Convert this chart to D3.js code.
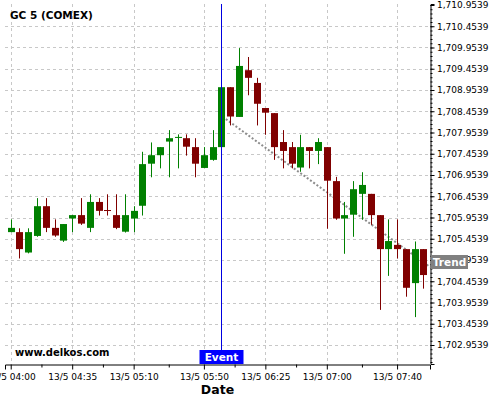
<!DOCTYPE html>
<html><head><meta charset="utf-8">
<script src="https://cdn.jsdelivr.net/npm/d3@7"></script>
<style>body{margin:0;background:#fff;}svg{display:block;font-family:"DejaVu Sans",sans-serif;}</style>
</head><body><div id="chart"></div>
<script>
// ---- data ----
const startTime = "2024-05-13T04:00:00";
const barMinutes = 5;
const opens  = [1705.61,1705.61,1705.13,1705.52,1706.22,1705.71,1705.41,1705.93,1706.01,1705.71,1706.32,1706.13,1706.01,1705.62,1705.93,1706.23,1707.22,1707.42,1707.74,1707.83,1707.82,1707.61,1707.12,1707.31,1707.61,1709.02,1708.32,1709.42,1709.12,1708.53,1708.41,1707.73,1707.61,1707.13,1707.61,1707.52,1707.61,1706.81,1705.93,1706.02,1706.51,1706.51,1706.01,1705.21,1705.31,1705.21,1704.41,1705.21];
const highs  = [1705.91,1705.70,1705.70,1706.41,1706.41,1705.91,1705.80,1706.01,1706.41,1706.50,1706.41,1706.50,1706.50,1706.50,1706.22,1707.50,1707.72,1707.61,1708.01,1707.91,1707.91,1707.82,1707.61,1708.01,1709.02,1709.02,1709.94,1709.73,1709.24,1708.53,1708.41,1708.01,1707.73,1707.90,1707.61,1707.82,1707.61,1706.91,1706.32,1706.81,1707.02,1706.51,1706.01,1705.91,1705.91,1705.21,1705.39,1705.21];
const lows   = [1705.61,1704.99,1705.11,1705.50,1705.61,1705.50,1705.38,1705.61,1705.78,1705.61,1706.00,1706.00,1705.68,1705.60,1705.61,1706.00,1706.90,1707.11,1706.90,1707.11,1707.41,1706.90,1707.12,1707.29,1707.61,1708.12,1708.32,1708.83,1708.12,1707.90,1707.31,1707.11,1707.11,1707.03,1707.11,1707.21,1705.69,1705.90,1705.10,1705.50,1705.90,1705.78,1703.78,1704.58,1704.99,1704.09,1703.61,1704.28];
const closes = [1705.71,1705.21,1705.61,1706.22,1705.71,1705.53,1705.80,1706.01,1705.81,1706.32,1706.11,1706.11,1705.71,1706.01,1706.11,1707.21,1707.42,1707.61,1707.82,1707.85,1707.62,1707.22,1707.42,1707.61,1709.02,1708.33,1709.52,1709.24,1708.63,1708.42,1707.61,1707.52,1707.22,1707.61,1707.52,1707.73,1706.82,1705.93,1706.01,1706.62,1706.72,1706.01,1705.21,1705.40,1705.21,1704.30,1705.21,1704.60];
const xTickTimes = ["04:00","04:35","05:10","05:50","06:25","07:00","07:40"];
const yTickValues = d3.range(0,17).map(i => 1702.9539 + i*0.5);
const eventTime = "06:00";
const eventLabel = "Event";
const trendTimes = ["06:02:30","07:58:45"];
const trendPrices = [1708.27,1704.79];
const trendLabel = "Trend";
const title = "GC 5 (COMEX)";
const watermark = "www.delkos.com";
const xAxisTitle = "Date";

// ---- setup ----
const W = 500, H = 400;
const plot = {left:5, right:430, top:4, bottom:364};
const day = "2024-05-13T";
const t = s => new Date(day + (s.length===5 ? s+":00" : s));
const t0 = new Date(startTime);
const times = opens.map((_,i)=> new Date(t0.getTime() + i*barMinutes*60000));
const candles = times.map((d,i)=>({date:d,o:opens[i],h:highs[i],l:lows[i],c:closes[i]}));

const x = d3.scaleTime().domain([t("03:56:45"), t("07:58:45")]).range([plot.left, plot.right]);
const y = d3.scaleLinear().domain([1702.5069, 1710.9774]).range([plot.bottom, plot.top]);

const svg = d3.select("#chart").append("svg").attr("width",W).attr("height",H);

// grid
const grid = svg.append("g").attr("stroke","#c8c8c8").attr("stroke-dasharray","3,3").attr("stroke-width",1);
grid.selectAll("line.h").data(yTickValues.filter(v => y(v) > plot.top+2)).join("line")
  .attr("x1",plot.left).attr("x2",plot.right)
  .attr("y1",d=>Math.round(y(d))+0.5).attr("y2",d=>Math.round(y(d))+0.5);
const xTicks = xTickTimes.map(t);
grid.selectAll("line.v").data(xTicks).join("line")
  .attr("y1",plot.top).attr("y2",plot.bottom)
  .attr("x1",d=>Math.round(x(d))+0.5).attr("x2",d=>Math.round(x(d))+0.5);

// trend line (under candles)
svg.append("line")
  .attr("x1",x(t(trendTimes[0]))).attr("y1",y(trendPrices[0]))
  .attr("x2",x(t(trendTimes[1]))).attr("y2",y(trendPrices[1]))
  .attr("stroke","#8c8c8c").attr("stroke-width",2).attr("stroke-dasharray","2,2");

// candles
const cg = svg.append("g");
const col = d => d.c >= d.o ? "#008000" : "#800000";
cg.selectAll("line").data(candles).join("line")
  .attr("x1",d=>Math.round(x(d.date))+0.5).attr("x2",d=>Math.round(x(d.date))+0.5)
  .attr("y1",d=>y(d.h)).attr("y2",d=>y(d.l))
  .attr("stroke",col).attr("stroke-width",1);
cg.selectAll("rect").data(candles).join("rect")
  .attr("x",d=>Math.round(x(d.date))-3).attr("width",7)
  .attr("y",d=>y(Math.max(d.o,d.c)))
  .attr("height",d=>Math.max(1, Math.abs(y(d.o)-y(d.c))))
  .attr("fill",col);

// event line
const ex = Math.round(x(t(eventTime)))+0.5;
svg.append("line").attr("x1",ex).attr("x2",ex).attr("y1",plot.top).attr("y2",plot.bottom)
  .attr("stroke","#0000e0").attr("stroke-width",1);
svg.append("rect").attr("x",ex-22).attr("y",350).attr("width",44).attr("height",14).attr("fill","#0000ff");
svg.append("text").attr("x",ex).attr("y",361).attr("text-anchor","middle")
  .attr("fill","#fff").attr("font-weight","bold").attr("font-size",10.5).text(eventLabel);

// axes
const yAxis = svg.append("g").attr("transform",`translate(${plot.right+0.5},0)`)
  .call(d3.axisRight(y).tickValues(yTickValues).tickSize(4).tickPadding(2.5).tickFormat(d3.format(",.4f")));
const yMinor = svg.append("g").attr("transform",`translate(${plot.right+0.5},0)`)
  .call(d3.axisRight(y).tickValues(d3.range(0,85).map(i=>1702.5539+i*0.1).filter(v=>v<=y.domain()[1])).tickSize(2).tickFormat(""));
yMinor.select(".domain").remove();

const xAxis = svg.append("g").attr("transform",`translate(0,${plot.bottom+0.5})`)
  .call(d3.axisBottom(x).tickValues(xTicks).tickSize(5).tickPadding(4.5).tickFormat(d3.timeFormat("%-d/%-m %H:%M")));
const minorX = [];
for (let i=0;i<xTicks.length-1;i++) minorX.push(new Date((xTicks[i].getTime()+xTicks[i+1].getTime())/2));
const xMinor = svg.append("g").attr("transform",`translate(0,${plot.bottom+0.5})`)
  .call(d3.axisBottom(x).tickValues(minorX).tickSize(3).tickFormat(""));
xMinor.select(".domain").remove();

[yAxis,xAxis,yMinor,xMinor].forEach(g=>{
  g.attr("font-family","DejaVu Sans, sans-serif").attr("font-size",9);
  g.selectAll("text").attr("fill","#000");
  g.selectAll("line").attr("stroke","#000");
  g.select(".domain").attr("stroke","#000");
});

// trend label
svg.append("rect").attr("x",431).attr("y",255).attr("width",37).attr("height",14).attr("fill","#808080");
svg.append("text").attr("x",449.5).attr("y",266).attr("text-anchor","middle").attr("fill","#fff")
  .attr("font-weight","bold").attr("font-size",10.5).text(trendLabel);

// texts
svg.append("text").attr("x",10).attr("y",19).attr("font-weight","bold").attr("font-size",10.5).text(title);
svg.append("text").attr("x",15).attr("y",356).attr("font-weight","bold").attr("font-size",10).text(watermark);
svg.append("text").attr("x",(plot.left+plot.right)/2).attr("y",394).attr("text-anchor","middle")
  .attr("font-weight","bold").attr("font-size",12.5).text(xAxisTitle);
</script></body></html>
